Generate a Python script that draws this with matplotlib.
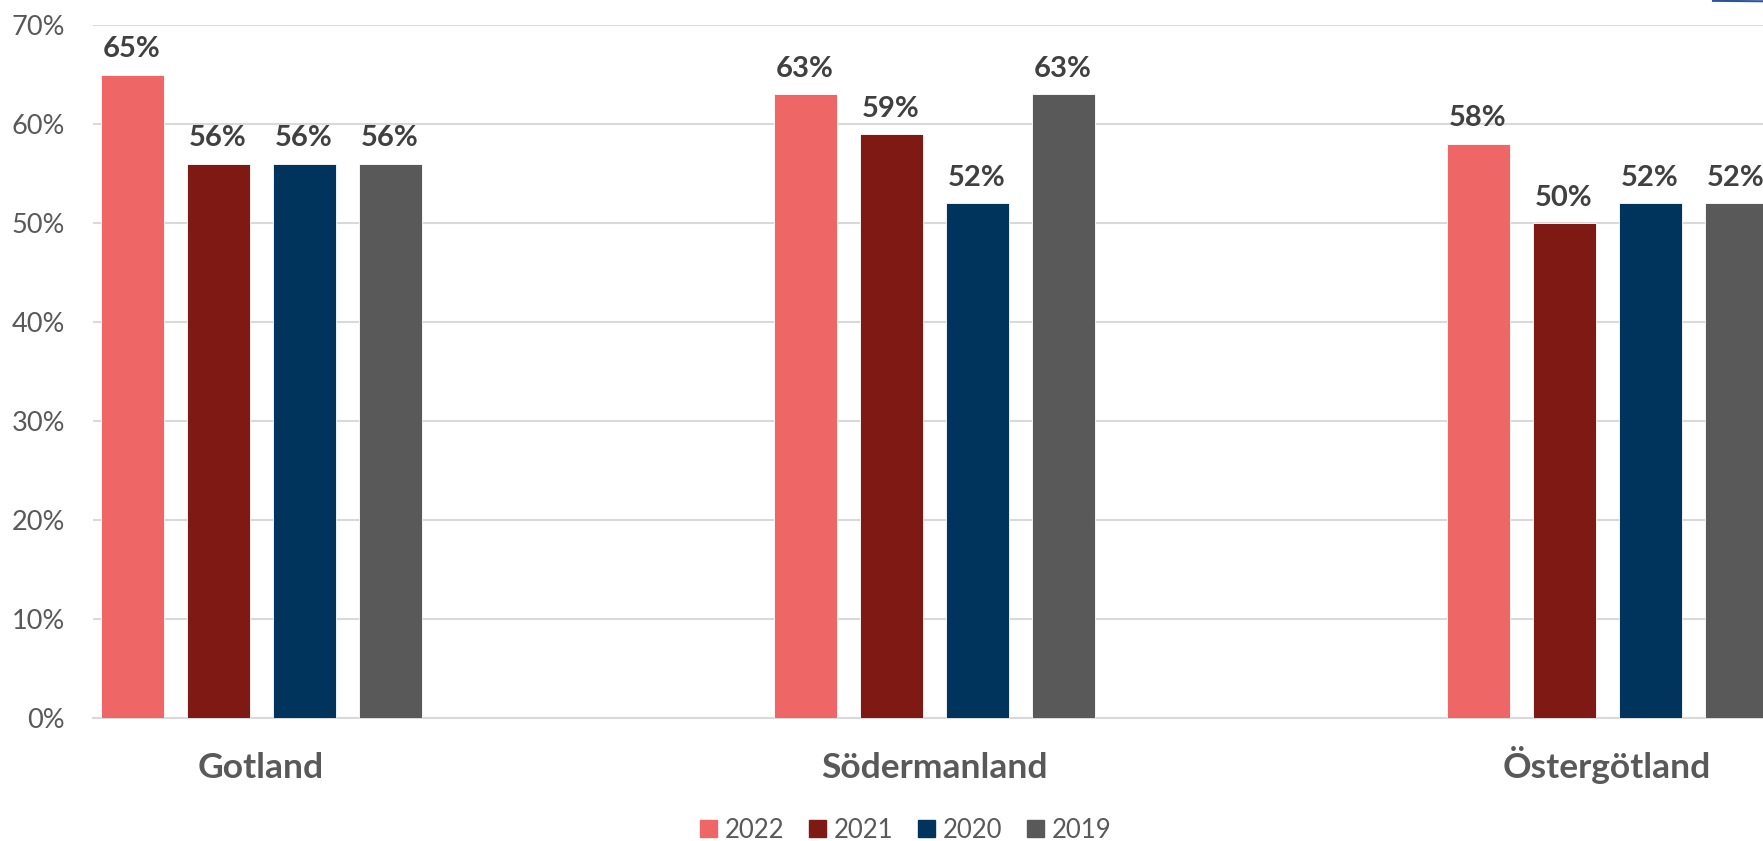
import numpy as np
import matplotlib.pyplot as plt
from matplotlib.lines import Line2D

# 数据
regions = ['Gotland', 'Södermanland', 'Östergötland']
years = ['2022', '2021', '2020', '2019']
values = {
    '2022': [65, 63, 58],
    '2021': [56, 59, 50],
    '2020': [56, 52, 52],
    '2019': [56, 63, 52],
}
colors = ['#EE6766', '#7F1913', '#00345C', '#595959']

plt.rcParams['font.family'] = ['Lato', 'DejaVu Sans']

fig = plt.figure(figsize=(17.63, 8.41), dpi=100)
ax = fig.add_axes([93 / 1763, 123 / 841, 1 - 93 / 1763, (718 - 25) / 841])

x = np.arange(len(regions))
step = 86 / 673
width = 63 / 673
for i, year in enumerate(years):
    pos = x + (i - 1.5) * step
    bars = ax.bar(pos, values[year], width, color=colors[i], label=year,
                  edgecolor='white', linewidth=0.6, zorder=3)
    for b, v in zip(bars, values[year]):
        ax.annotate(f'{v}%', (b.get_x() + b.get_width() / 2, v), xytext=(0, 12.5),
                    textcoords='offset points', ha='center', va='baseline',
                    fontsize=21, fontweight='bold', color='#404040')

ax.set_xlim(-(261 - 93) / 673, (1763 - 261) / 673)
ax.set_ylim(0, 70)
ax.set_yticks(range(0, 71, 10))
ax.set_yticklabels([f'{t}%' for t in range(0, 71, 10)], fontsize=19.5, color='#595959')
ax.tick_params(axis='y', length=0, pad=20)
ax.set_xticks([])
# 类别标签（按基线对齐）
for xi, name in zip(x, regions):
    ax.text(xi, -(778 - 718) / 693, name, transform=ax.get_xaxis_transform(),
            ha='center', va='baseline', fontsize=25.5, fontweight='bold', color='#595959')
ax.grid(axis='y', color='#D9D9D9', linewidth=1.5, zorder=0)
for s in ['top', 'right', 'left']:
    ax.spines[s].set_visible(False)
ax.spines['bottom'].set_color('#D9D9D9')
ax.spines['bottom'].set_linewidth(1.5)

handles = [plt.Rectangle((0, 0), 1, 1, color=c) for c in colors]
fig.legend(handles, years, loc='center', bbox_to_anchor=(906 / 1763, 1 - 830 / 841),
           ncol=4, frameon=False, fontsize=18.5, handlelength=0.66, handleheight=0.66,
           handletextpad=0.3, columnspacing=0.97, labelcolor='#595959')

# 右上角的装饰线
fig.add_artist(Line2D([1713 / 1763, 1.0], [0.999, 0.9985], color='#2F5597', linewidth=1.5,
                      transform=fig.transFigure))

fig.savefig('out.png', dpi=100)
